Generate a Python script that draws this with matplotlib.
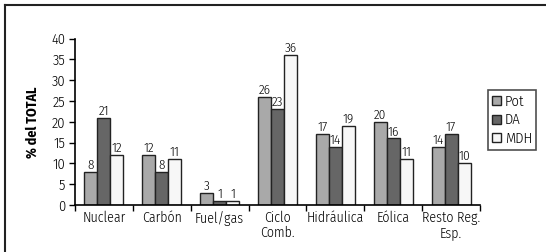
import matplotlib
matplotlib.use("Agg")
import matplotlib.pyplot as plt
import numpy as np

categories = ["Nuclear", "Carbón", "Fuel/gas", "Ciclo\nComb.", "Hidráulica", "Eólica", "Resto Reg.\nEsp."]
series_names = ["Pot", "DA", "MDH"]
pot = [8, 12, 3, 26, 17, 20, 14]
da = [21, 8, 1, 23, 14, 16, 17]
mdh = [12, 11, 1, 36, 19, 11, 10]
yticks = [0, 5, 10, 15, 20, 25, 30, 35, 40]

plt.rcParams['font.family'] = ['Fira Sans Condensed', 'DejaVu Sans']
plt.rcParams['font.weight'] = 300

W, H = 546, 252
fig = plt.figure(figsize=(W/100, H/100), dpi=100)
# outer frame (top and left)
fig.add_artist(plt.Line2D([5/W, 1], [1-5/H, 1-5/H], color='#222222', lw=1.5))
fig.add_artist(plt.Line2D([5/W, 5/W], [0, 1-5/H], color='#222222', lw=1.5))

ax = fig.add_axes([75/W, 1-205/H, (480-75)/W, (205-38.7)/H])
colors = ["#a9a9a9", "#666666", "#f7f7f7"]
x = np.arange(len(categories))
bw = 0.225
for i, (vals, c, nm) in enumerate(zip([pot, da, mdh], colors, series_names)):
    pos = x + (i-1)*bw
    ax.bar(pos, vals, bw, color=c, edgecolor='#222222', linewidth=1.0, label=nm)
    for p, v in zip(pos, vals):
        ax.text(p, v + 0.1, str(v), ha='center', va='bottom', fontsize=9.5)

ax.set_xlim(-0.5, len(categories)-0.5)
ax.set_ylim(0, 40)
ax.set_yticks(yticks)
ax.set_yticklabels([str(t) for t in yticks], fontsize=10.5)
ax.set_xticks(np.arange(len(categories)+1) - 0.5, minor=False)
ax.set_xticklabels([])
ax.set_xticks(x, minor=True)
ax.set_xticklabels(categories, minor=True, fontsize=10, linespacing=1.1)
ax.tick_params(axis='x', which='minor', length=0, pad=4)
ax.tick_params(axis='x', which='major', length=4, direction='out', width=1)
ax.tick_params(axis='y', length=4, direction='out', width=1, pad=3)
for s in ['top', 'right']:
    ax.spines[s].set_visible(False)
ax.spines['left'].set_linewidth(1.2)
ax.spines['bottom'].set_linewidth(1.2)
ax.set_ylabel("% del TOTAL", fontsize=10, fontweight='bold', labelpad=8)

leg = fig.legend(loc='upper left', bbox_to_anchor=(488/W, 1-90/H), fontsize=10.5,
                 frameon=True, fancybox=False, edgecolor='#222222',
                 handlelength=0.6, handleheight=0.6, handletextpad=0.25,
                 borderpad=0.3, labelspacing=0.3, borderaxespad=0)
leg.get_frame().set_linewidth(1.2)

fig.savefig("out.png", dpi=100)
